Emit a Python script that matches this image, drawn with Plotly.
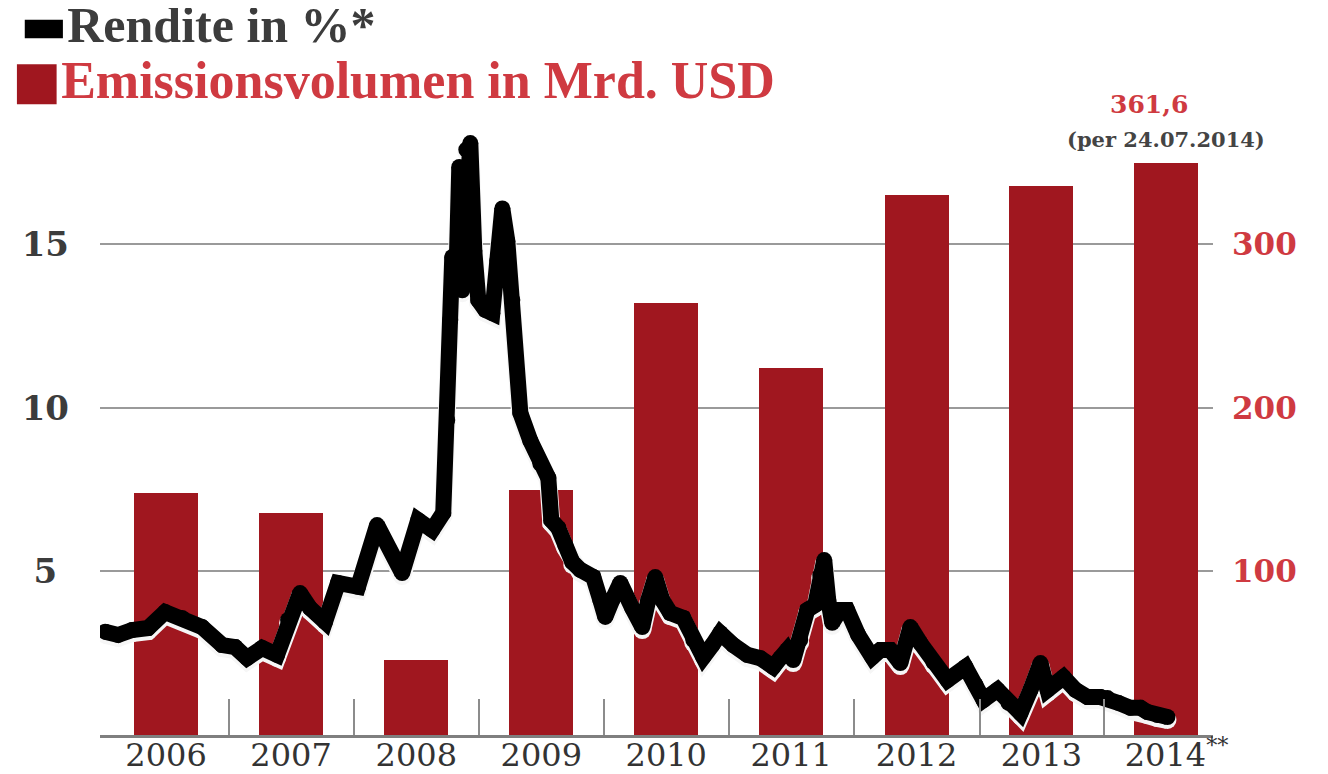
import datetime as dt
import plotly.graph_objects as go

# ---------------- data ----------------
years = ["2006", "2007", "2008", "2009", "2010", "2011", "2012", "2013", "2014"]
bar_dates = ["2006-07-01", "2007-07-01", "2008-07-01", "2009-07-01", "2010-07-01",
             "2011-07-01", "2012-07-01", "2013-07-01", "2014-07-01"]
emission = [148, 136, 46, 150, 264, 224.5, 330, 336, 350]
tick_labels = ["2006", "2007", "2008", "2009", "2010", "2011", "2012", "2013",
               "\u20072014<sup>**</sup>"]
year_starts = ["2007-01-01", "2008-01-01", "2009-01-01", "2010-01-01", "2011-01-01",
               "2012-01-01", "2013-01-01", "2014-01-01"]

# yield series (decimal year, percent)
rendite_t = [2006.008, 2006.112, 2006.224, 2006.352, 2006.488, 2006.624, 2006.784, 2006.944,
             2007.048, 2007.144, 2007.264, 2007.384, 2007.472, 2007.568, 2007.648, 2007.768,
             2007.872, 2008.032, 2008.184, 2008.384, 2008.512, 2008.624, 2008.712, 2008.744,
             2008.768, 2008.784, 2008.816, 2008.840, 2008.864, 2008.896, 2008.928, 2008.960,
             2008.992, 2009.048, 2009.104, 2009.144, 2009.184, 2009.224, 2009.264, 2009.328,
             2009.408, 2009.488, 2009.552, 2009.576, 2009.632, 2009.688, 2009.744, 2009.808,
             2009.912, 2009.968, 2010.008, 2010.064, 2010.128, 2010.224, 2010.304, 2010.352,
             2010.408, 2010.464, 2010.528, 2010.632, 2010.712, 2010.792, 2010.864, 2010.928,
             2011.032, 2011.144, 2011.248, 2011.352, 2011.408, 2011.464, 2011.512, 2011.568,
             2011.624, 2011.688, 2011.728, 2011.760, 2011.792, 2011.824, 2011.888, 2011.944,
             2012.032, 2012.144, 2012.208, 2012.288, 2012.368, 2012.448, 2012.528, 2012.632,
             2012.744, 2012.888, 2012.968, 2013.032, 2013.144, 2013.232, 2013.328, 2013.408,
             2013.488, 2013.544, 2013.608, 2013.672, 2013.768, 2013.864, 2013.968, 2014.024,
             2014.112, 2014.208, 2014.288, 2014.344, 2014.424, 2014.504]
rendite = [3.16, 3.06, 3.21, 3.27, 3.76, 3.58, 3.30, 2.75,
           2.69, 2.35, 2.66, 2.45, 3.52, 4.34, 3.88, 3.46,
           4.65, 4.53, 6.42, 4.95, 6.57, 6.27, 6.79, 9.63,
           12.69, 14.62, 13.82, 17.37, 13.60, 17.90, 18.10, 14.80,
           13.30, 13.00, 12.90, 14.50, 16.10, 15.10, 13.30, 9.85,
           9.00, 8.30, 7.86, 6.57, 6.33, 5.81, 5.29, 5.05,
           4.83, 4.13, 3.61, 4.13, 4.65, 3.88, 3.30, 4.13,
           4.83, 4.13, 3.73, 3.58, 2.91, 2.38, 2.75, 3.12,
           2.75, 2.45, 2.35, 2.08, 2.35, 2.60, 2.29, 2.91,
           3.82, 3.98, 4.89, 5.35, 4.13, 3.43, 3.82, 3.82,
           3.06, 2.38, 2.60, 2.60, 2.20, 3.30, 2.81, 2.23,
           1.68, 2.08, 1.53, 1.07, 1.38, 0.98, 0.67, 1.38,
           2.20, 1.38, 1.59, 1.77, 1.38, 1.16, 1.16, 1.13,
           0.98, 0.83, 0.83, 0.70, 0.61, 0.55]

legend_line = "Rendite in %*"
legend_bar = "Emissionsvolumen in Mrd. USD"
label_value = "361,6"
label_note = "(per 24.07.2014)"


def dec_to_date(t):
    y = int(t)
    a = dt.datetime(y, 1, 1)
    b = dt.datetime(y + 1, 1, 1)
    return (a + (b - a) * (t - y)).strftime("%Y-%m-%d %H:%M")


rendite_dates = [dec_to_date(t) for t in rendite_t]

# ---------------- styling ----------------
RED_BAR = "#A0171F"
RED_TXT = "#CF3A41"
GRAY_TXT = "#3c3c3c"
SERIF = "DejaVu Serif"

W, H = 1328, 774
OFF = 8  # page body margin offset
# plot area in page pixels: x 100..1213, y 130..735
ML, MR, MT, MB = 100 - OFF, W - (1213 - OFF), 130 - OFF, H - (735 - OFF)
plot_w = W - ML - MR
plot_h = H - MT - MB

L_MAX = 18.5
R_MAX = 370.0
shadow_px = 3  # vertical offset of the light halo
shadow_shift = shadow_px * L_MAX / plot_h
LW = 16

fig = go.Figure()

fig.add_trace(go.Bar(
    x=bar_dates, y=emission, width=187 * 86400000,
    marker=dict(color=RED_BAR, line=dict(width=0)),
    name=legend_bar, showlegend=False, xaxis="x", yaxis="y",
))

fig.add_trace(go.Scatter(
    x=rendite_dates, y=rendite, mode="lines+markers",
    line=dict(color="#f6f6f6", width=LW + 2),
    marker=dict(color="#f6f6f6", size=LW + 2),
    showlegend=False, hoverinfo="skip", xaxis="x", yaxis="y2",
))

fig.add_trace(go.Scatter(
    x=rendite_dates, y=rendite, mode="lines+markers",
    line=dict(color="#000000", width=LW),
    marker=dict(color="#000000", size=LW),
    name=legend_line, showlegend=False, xaxis="x", yaxis="y3",
))


def px_x(p):
    return (p - OFF - ML) / plot_w


def px_y(p):
    return 1 + (MT - (p - OFF)) / plot_h


# legend (text entries with glyph swatches)
fig.add_annotation(
    xref="paper", yref="paper", x=px_x(18), y=px_y(25), xanchor="left", yanchor="middle",
    showarrow=False,
    text=(f'<span style="color:#000000;font-family:DejaVu Sans">\u25ac</span>'
          f'<span style="color:{GRAY_TXT}">{legend_line}</span>'),
    font=dict(family="Liberation Serif", size=50, color=GRAY_TXT, weight="bold"),
)
fig.add_annotation(
    xref="paper", yref="paper", x=px_x(10), y=px_y(80), xanchor="left", yanchor="middle",
    showarrow=False,
    text=(f'<span style="color:{RED_BAR};font-family:DejaVu Sans">\u25a0</span>'
          f'<span style="color:{RED_TXT}">{legend_bar}</span>'),
    font=dict(family="Liberation Serif", size=52, color=RED_TXT, weight="bold"),
)

fig.add_annotation(x=bar_dates[-1], y=emission[-1], xref="x", yref="y",
                   text=label_note, showarrow=False, yanchor="bottom", yshift=9,
                   font=dict(family=SERIF, size=21, color="#444444", weight="bold"))
fig.add_annotation(x=bar_dates[-1], y=emission[-1], xref="x", yref="y",
                   text=label_value, showarrow=False, yanchor="bottom", yshift=42,
                   xshift=-17,
                   font=dict(family=SERIF, size=25, color=RED_TXT, weight="bold"))

fig.update_layout(
    width=W, height=H,
    margin=dict(l=ML, r=MR, t=MT, b=MB, autoexpand=False),
    paper_bgcolor="white", plot_bgcolor="white",
    showlegend=False,
    bargap=0,
    xaxis=dict(
        type="date", range=["2005-12-20", "2014-11-14"], automargin=False,
        tickmode="array", tickvals=bar_dates, ticktext=tick_labels,
        ticks="", showgrid=False, zeroline=False,
        showline=True, linecolor="#7f7f7f", linewidth=3,
        tickfont=dict(family=SERIF, size=32, color="#333333"),
        ticklabelstandoff=-10,
        minor=dict(tickmode="array", tickvals=year_starts, ticks="inside",
                   ticklen=36, tickwidth=2, tickcolor="#8c8c8c", showgrid=False),
    ),
    yaxis=dict(
        side="right", range=[0, R_MAX], automargin=False,
        tickmode="array", tickvals=[100, 200, 300], ticktext=["100", "200", "300"],
        showgrid=True, gridcolor="#9a9a9a", gridwidth=2,
        zeroline=False, showline=False, ticks="",
        tickfont=dict(family=SERIF, size=31, color=RED_TXT, weight="bold"),
        ticklabelstandoff=18,
    ),
    yaxis2=dict(
        overlaying="y", range=[shadow_shift, L_MAX + shadow_shift], visible=False,
        automargin=False,
    ),
    yaxis3=dict(
        overlaying="y", side="left", range=[0, L_MAX], automargin=False,
        tickmode="array", tickvals=[5, 10, 15], ticktext=["5\u2008", "10", "15"],
        showgrid=False, zeroline=False, showline=False, ticks="",
        tickfont=dict(family=SERIF, size=34, color=GRAY_TXT, weight="bold"),
        ticklabelstandoff=30,
    ),
)

fig.write_html("out.html")
